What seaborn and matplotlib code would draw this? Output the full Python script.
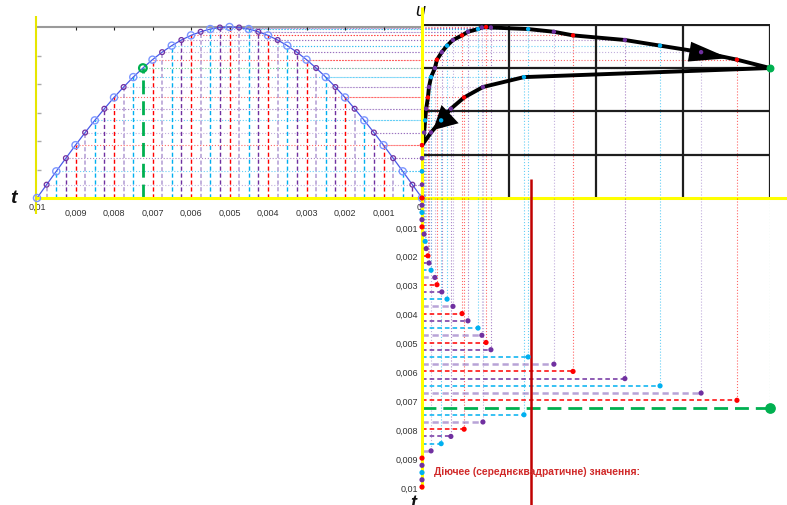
# Побудова петлі гістерезису та струму намагнічування за синусоїдою напруги
# ліва частина - u(t), справа зверху - петля u(i), справа знизу - i(t)

import numpy as np
import pandas as pd
import seaborn as sns
import matplotlib
matplotlib.use('Agg')
import matplotlib.pyplot as plt

# час, мс (крок 0,25 мс)
t_ms = [0, 0.25, 0.5, 0.75, 1, 1.25, 1.5, 1.75, 2, 2.25, 2.5, 2.75, 3, 3.25, 3.5, 3.75,
        4, 4.25, 4.5, 4.75, 5, 5.25, 5.5, 5.75, 6, 6.25, 6.5, 6.75, 7, 7.25, 7.5, 7.75,
        8, 8.25, 8.5, 8.75, 9, 9.25, 9.5, 9.75, 10]
# напруга u(t), відн. од.
u_vals = [0, 0.078, 0.156, 0.233, 0.309, 0.383, 0.454, 0.522, 0.588, 0.649, 0.707,
          0.760, 0.809, 0.853, 0.891, 0.924, 0.951, 0.972, 0.988, 0.997, 1.0,
          0.997, 0.988, 0.972, 0.951, 0.924, 0.891, 0.853, 0.809, 0.760, 0.707,
          0.649, 0.588, 0.522, 0.454, 0.383, 0.309, 0.233, 0.156, 0.078, 0]
# струм намагнічування, відн. од. (довжини відрізків унизу справа)
i_vals = [0, 0, 0, 0, 0, 0.006, 0.009, 0.012, 0.017, 0.020, 0.026, 0.037, 0.043,
          0.057, 0.072, 0.089, 0.115, 0.132, 0.161, 0.172, 0.184, 0.198, 0.305,
          0.379, 0.434, 0.583, 0.684, 0.802, 0.905, 1.0, 0.293, 0.175, 0.121,
          0.083, 0.055, 0.026, 0, 0, 0, 0, 0]
green_idx = 29  # точка максимуму струму

t_ticks = [0.001, 0.002, 0.003, 0.004, 0.005, 0.006, 0.007, 0.008, 0.009, 0.01]
t_tick_labels = ['0,001', '0,002', '0,003', '0,004', '0,005',
                 '0,006', '0,007', '0,008', '0,009', '0,01']
grid_i = [0.25, 0.5, 0.75, 1.0]
grid_u = [0.253, 0.507, 0.76, 1.013]
u_minor = [1 / 6, 2 / 6, 3 / 6, 4 / 6, 5 / 6]
rms_text = 'Діючее (середнєквадратичне) значення:'

slot_names = ['red', 'purple', 'cyan', 'lavender']
line_pal = {'red': '#ff0000', 'purple': '#7030a0', 'cyan': '#00b0f0',
            'lavender': '#9a7cc6', 'green': '#00b050'}
dot_pal = {'red': '#ff0000', 'purple': '#7030a0', 'cyan': '#00b0f0',
           'lavender': '#7030a0', 'green': '#00b050'}


def make_df():
    slot = [slot_names[k % 4] for k in range(len(t_ms))]
    slot[green_idx] = 'green'
    df = pd.DataFrame({'t': np.array(t_ms) / 1000, 'u': u_vals, 'i': i_vals, 'slot': slot})
    return df


df = make_df()
rms = np.sqrt(np.mean(np.array(i_vals) ** 2))

sns.set_theme(style='white')
plt.rcParams['font.family'] = ['Liberation Sans', 'DejaVu Sans']

W, H = 787, 506
fig = plt.figure(figsize=(7.87, 5.06), dpi=100)


def box(x0, y0, x1, y1):
    return [x0 / W, 1 - y1 / H, (x1 - x0) / W, (y1 - y0) / H]


ax_s = fig.add_axes(box(37, 25, 422, 199))
ax_h = fig.add_axes(box(422, 25, 770, 199))
ax_t = fig.add_axes(box(422, 199, 770, 506))

U_TOP = 174 / 171
T_BOT = 307 / 28900
ax_s.set_xlim(0.01, 0)
ax_s.set_ylim(0, U_TOP)
ax_h.set_xlim(0, 1)
ax_h.set_ylim(0, U_TOP)
ax_t.set_xlim(0, 1)
ax_t.set_ylim(T_BOT, 0)

for ax in (ax_s, ax_h, ax_t):
    ax.patch.set_visible(False)
    for sp in ax.spines.values():
        sp.set_visible(False)
    ax.set_xticks([])
    ax.set_yticks([])

pos = df[df['i'] > 0]

# пунктирні лінії-проєкції
for name, g in df.groupby('slot'):
    c = line_pal[name]
    ax_s.hlines(g['u'], g['t'], 0, colors=c, linestyles=':', lw=0.8, alpha=0.6, zorder=1)
    ax_h.hlines(g['u'], 0, g['i'], colors=c, linestyles=':', lw=0.8, alpha=0.6, zorder=1)
for name, g in pos.groupby('slot'):
    c = line_pal[name]
    ax_h.vlines(g['i'], 0, g['u'], colors=c, linestyles=':', lw=0.8, alpha=0.6, zorder=1)
    ax_t.vlines(g['i'], 0, g['t'], colors=c, linestyles=':', lw=0.8, alpha=0.6, zorder=1)

# штрихові вертикалі під синусоїдою та відрізки i(t)
for name, g in df.groupby('slot'):
    c = line_pal[name]
    if name == 'green':
        ls, lw, al, lw_s = (0, (5, 2.5)), 2.0, 1.0, 2.0
    elif name == 'lavender':
        ls, lw, al, lw_s = (0, (2.5, 1.5)), 1.8, 0.7, 1.2
    else:
        ls, lw, al, lw_s = (0, (3, 2)), 1.1, 1.0, 1.0
    ax_s.vlines(g['t'], 0, g['u'], colors=c, linestyles=ls, lw=lw_s, alpha=al, zorder=2)
    ax_t.hlines(g['t'], 0, g['i'], colors=c, linestyles=ls, lw=lw, alpha=al, zorder=2,
                clip_on=False)

# синусоїда
sns.lineplot(data=df, x='t', y='u', ax=ax_s, color='#4a5ae8', lw=0.9, zorder=3)
big = df[df['slot'].isin(['red', 'cyan'])]
small = df[df['slot'].isin(['purple', 'lavender'])]
ax_s.scatter(big['t'], big['u'], s=26, facecolors='none', edgecolors='#7b96ff', lw=1.0,
             zorder=4, clip_on=False)
ax_s.scatter(small['t'], small['u'], s=12, facecolors='none', edgecolors='#7030a0', lw=0.9,
             zorder=4, clip_on=False)
g = df.iloc[[green_idx]]
ax_s.scatter(g['t'], g['u'], s=30, facecolors='none', edgecolors='#00b050', lw=1.6, zorder=4)
ax_s.set_xlabel('')
ax_s.set_ylabel('')

# рамка лівого графіка
ax_s.hlines(1.0, 0.01, 0, color='#9a9a9a', lw=1.5, zorder=2)
ax_s.vlines(t_ticks[:-1], 0.982, 1.0, color='#222222', lw=0.8, zorder=2)
ax_s.hlines(u_minor, 0.01, 0.01 - 0.0001, color='#aaaaaa', lw=1.0, zorder=2)
ax_s.hlines(0, 0.01005, 0, color='#ffff00', lw=2.2, zorder=3.5, clip_on=False)
ax_s.vlines(0.01003, -0.094, 1.064, color='#e6e600', lw=1.5, zorder=3.5, clip_on=False)

ax_s.set_xticks(t_ticks[:-1])
ax_s.set_xticklabels(t_tick_labels[:-1])
ax_s.tick_params(axis='x', length=0, pad=7, labelsize=6.5, labelcolor='#333333')
ax_s.text(0.01, -0.047, '0,01', ha='center', va='center', fontsize=6.5, color='#333333')
ax_s.text(0.00008, -0.047, '0', ha='center', va='center', fontsize=6.5, color='#333333')
ax_s.text(0.0106, 0, 't', ha='center', va='center', fontsize=14, fontweight='bold',
          fontstyle='italic', color='#111111')

# сітка та петля гістерезису
ax_h.vlines(grid_i, 0, grid_u[-1], color='#1e1e1e', lw=1.6, zorder=2)
ax_h.hlines(grid_u, 0, 1.0, color='#1e1e1e', lw=1.6, zorder=2)
ax_h.plot(df['i'], df['u'], color='black', lw=2.8, zorder=3, solid_capstyle='round')
ax_h.annotate('', xy=(0.89, 0.815), xytext=(0.78, 0.852),
              arrowprops=dict(arrowstyle='-|>,head_length=2.4,head_width=0.6',
                              color='black', lw=0), zorder=4)
ax_h.annotate('', xy=(0.026, 0.386), xytext=(0.07, 0.47),
              arrowprops=dict(arrowstyle='-|>,head_length=1.4,head_width=0.75',
                              color='black', lw=0), zorder=4)
sns.scatterplot(data=df[df['slot'] != 'green'], x='i', y='u', hue='slot', palette=dot_pal,
                s=10, edgecolor='none', legend=False, ax=ax_h, zorder=5, clip_on=False)
ax_h.scatter([df['i'][green_idx]], [df['u'][green_idx]], s=22, color='#00b050', zorder=5,
             clip_on=False)
ax_h.hlines(0, 0, 365 / 348, color='#ffff00', lw=2.2, zorder=3.5, clip_on=False)
ax_h.vlines(0, 0, 191 / 171, color='#ffff00', lw=2.2, zorder=3.5, clip_on=False)
ax_h.text(-0.006, 1.094, 'u', ha='center', va='center', fontsize=13, fontstyle='italic',
          color='#111111')
ax_h.set_xlabel('')
ax_h.set_ylabel('')

# струм у часі
ax_t.vlines(0, 0, 0.01007, color='#ffff00', lw=2.2, zorder=3.5, clip_on=False)
sns.scatterplot(data=df[df['slot'] != 'green'], x='i', y='t', hue='slot', palette=dot_pal,
                s=14, edgecolor='none', legend=False, ax=ax_t, zorder=5, clip_on=False)
ax_t.scatter([df['i'][green_idx]], [df['t'][green_idx]], s=45, color='#00b050', zorder=5,
             clip_on=False)
ax_t.vlines(rms, -19 / 28900, T_BOT, color='#c00000', lw=1.8, zorder=4, clip_on=False)
ax_t.set_xlabel('')
ax_t.set_ylabel('')
ax_t.set_xticks([])
ax_t.set_yticks(t_ticks)
ax_t.set_yticklabels(t_tick_labels)
ax_t.tick_params(axis='y', length=0, pad=3, labelsize=6.5, labelcolor='#333333')
ax_t.text(0.034, 0.009446, rms_text, ha='left', va='center', fontsize=7.4, fontweight='bold',
          color='#d02828', zorder=6)
ax_t.text(-0.026, 0.01055, 't', ha='center', va='center', fontsize=13, fontweight='bold',
          fontstyle='italic', color='#111111')

plt.savefig('out.png', dpi=100)
